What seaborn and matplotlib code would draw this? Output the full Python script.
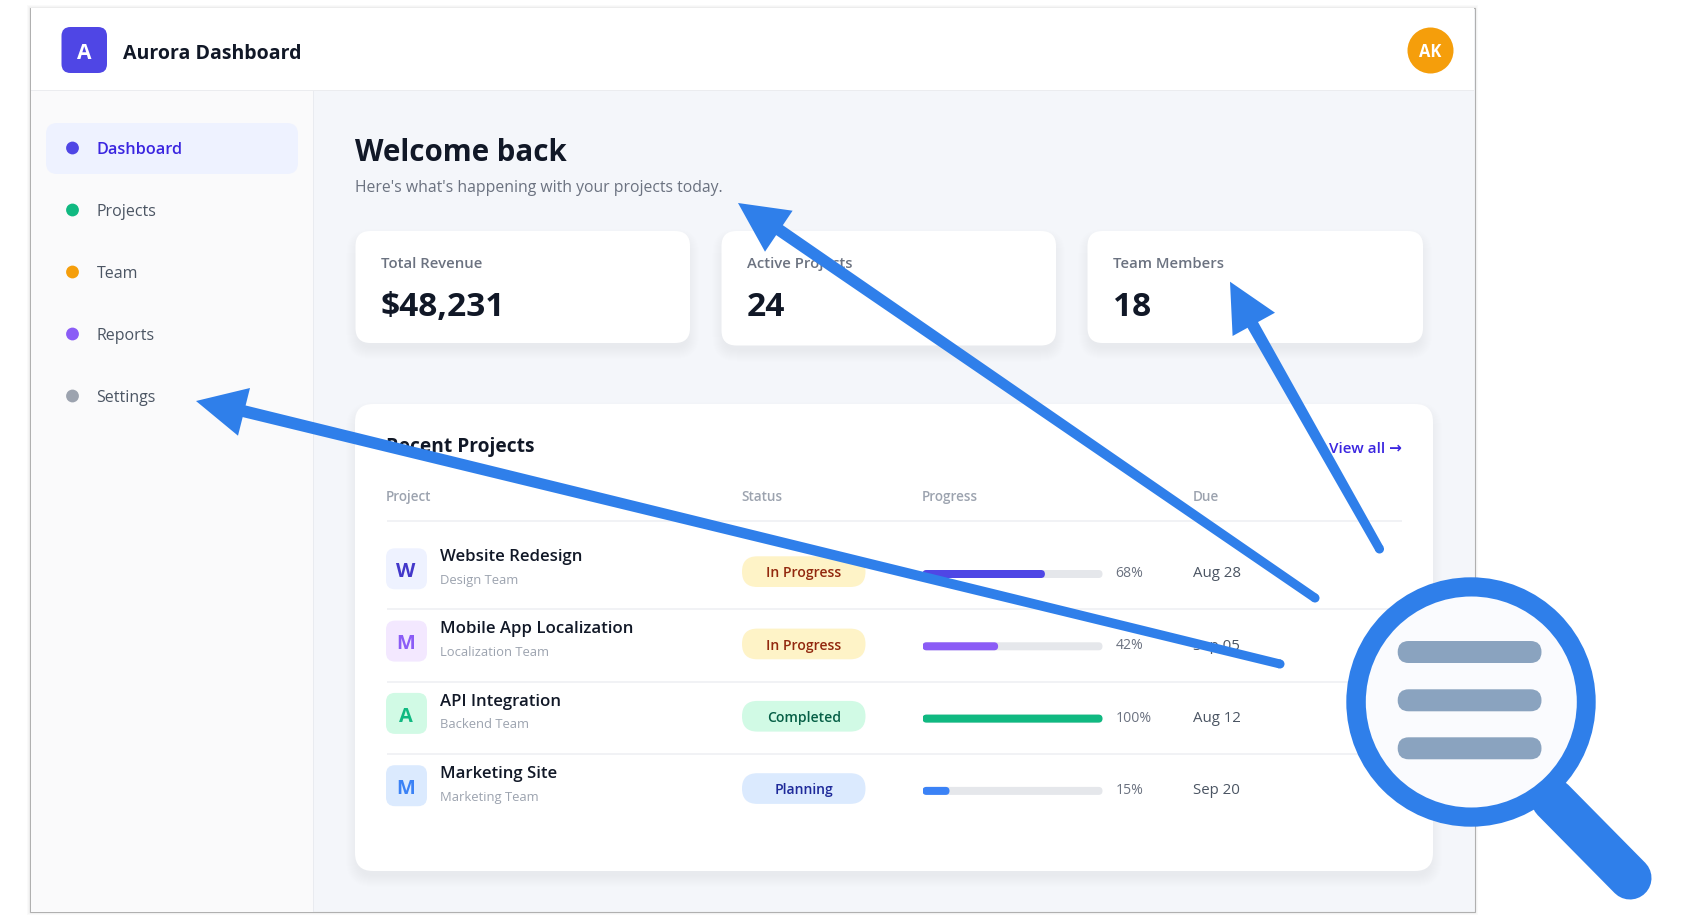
import matplotlib
matplotlib.use("Agg")
import matplotlib.pyplot as plt
from matplotlib.patches import FancyBboxPatch, Circle, Polygon, Rectangle
import numpy as np
import seaborn as sns

# --------------------------------------------------
# DATA
# --------------------------------------------------

nav_items = ["Dashboard", "Projects", "Team", "Reports", "Settings"]
nav_colors = ["#4F46E5", "#10B981", "#F59E0B", "#8B5CF6", "#9CA3AF"]

stat_labels = ["Total Revenue", "Active Projects", "Team Members"]
stat_values = ["$48,231", "24", "18"]

table_headers = ["Project", "Status", "Progress", "Due"]
projects = ["Website Redesign", "Mobile App Localization", "API Integration", "Marketing Site"]
teams = ["Design Team", "Localization Team", "Backend Team", "Marketing Team"]
initials = ["W", "M", "A", "M"]
statuses = ["In Progress", "In Progress", "Completed", "Planning"]
progress = [68, 42, 100, 15]
track = [100, 100, 100, 100]
due_dates = ["Aug 28", "Sep 05", "Aug 12", "Sep 20"]

icon_bg = ["#EEF2FF", "#F3E8FF", "#D1FAE5", "#DBEAFE"]
icon_fg = ["#4338CA", "#8B5CF6", "#10B981", "#3B82F6"]
status_bg = {"In Progress": "#FEF3C7", "Completed": "#D1FAE5", "Planning": "#DBEAFE"}
status_fg = {"In Progress": "#92280E", "Completed": "#065F46", "Planning": "#1E2A9A"}
progress_colors = ["#4F46E5", "#8B5CF6", "#10B981", "#3B82F6"]

# --------------------------------------------------
# FIGURE SETUP
# --------------------------------------------------

W, H = 1703, 922
BLUE = "#2F7FEA"
INK = "#111827"
INDIGO = "#3B26E0"

sns.set_theme(style="white")
plt.rcParams["font.family"] = ["Open Sans", "DejaVu Sans"]

fig = plt.figure(figsize=(W / 100, H / 100), dpi=100, facecolor="white")


def pixel_axes(zorder):
    ax = fig.add_axes([0, 0, 1, 1], zorder=zorder)
    ax.set_xlim(0, W)
    ax.set_ylim(H, 0)
    ax.axis("off")
    ax.patch.set_alpha(0)
    return ax


bg = pixel_axes(0)
top = pixel_axes(2)


def box(ax, x0, y0, x1, y1, r, color, **kw):
    ax.add_patch(FancyBboxPatch((x0, y0), x1 - x0, y1 - y0,
                                boxstyle=f"round,pad=0,rounding_size={r}",
                                fc=color, ec="none", **kw))


def card(x0, y0, x1, y1, r):
    # soft shadow, just stacked see-through boxes
    for grow in range(-2, 10):
        box(bg, x0 - grow, y0 + 7 - grow, x1 + grow, y1 + 7 + grow, r + max(grow, 0),
            "#1F2937", alpha=0.0055)
    box(bg, x0, y0, x1, y1, r, "white")


def label(x, y, s, px, color, weight="normal", ha="left", ax=bg):
    # y is the middle of the capitals, px the font size in pixels
    ax.text(x, y + 0.357 * px, s, fontsize=px * 0.72, color=color,
            fontweight=weight, ha=ha, va="baseline")


# --------------------------------------------------
# PANEL, HEADER, SIDEBAR
# --------------------------------------------------

for grow in range(1, 4):
    bg.add_patch(Rectangle((30 - grow, 8 - grow), 1444.5 + 2 * grow, 904 + 2 * grow,
                           fc="#000000", ec="none", alpha=0.02))
bg.add_patch(Rectangle((30, 8), 1444.5, 904, fc="#F4F6FA", ec="#B0B0B0", lw=0.8))
bg.add_patch(Rectangle((30.5, 8.5), 1443.5, 82, fc="white", ec="none"))
bg.add_patch(Rectangle((30.5, 90), 1443.5, 1.5, fc="#EBECEF", ec="none"))
bg.add_patch(Rectangle((30.5, 91.5), 282, 820, fc="#FAFAFB", ec="none"))
bg.add_patch(Rectangle((312.5, 91.5), 1.5, 820, fc="#E9EBF0", ec="none"))

box(bg, 61.5, 27, 107, 73, 9, "#4F46E5")
label(84, 52, "A", 21, "white", "bold", ha="center")
label(123, 52.5, "Aurora Dashboard", 19.5, INK, "bold")

bg.add_patch(Circle((1430.5, 50.5), 23, fc="#F59E0B", ec="none"))
label(1430.5, 51, "AK", 16.5, "white", "bold", ha="center")

box(bg, 46, 123, 298, 174, 11, "#EEF2FF")
for i, (item, dot) in enumerate(zip(nav_items, nav_colors)):
    y = 148 + 62 * i
    bg.add_patch(Circle((72.5, y), 6.4, fc=dot, ec="none"))
    if i == 0:
        label(96.5, y + 0.5, item, 16.3, INDIGO, 600)
    else:
        label(96.5, y + 0.5, item, 16, "#4B5563")

# --------------------------------------------------
# WELCOME + STAT CARDS
# --------------------------------------------------

label(355, 150.5, "Welcome back", 29.5, INK, "bold")
label(355, 186.5, "Here's what's happening with your projects today.", 15.8, "#6B7280")

card_boxes = [(355.5, 231, 690, 343), (721.5, 231, 1056, 345.5), (1087.5, 231, 1423, 343)]
for (x0, y0, x1, y1), name, value in zip(card_boxes, stat_labels, stat_values):
    card(x0, y0, x1, y1, 15)
    label(x0 + 25.5, 262.5, name, 14.9, "#6B7280", 600)
    label(x0 + 25.5, 304, value, 33.5, INK, "bold")

# --------------------------------------------------
# RECENT PROJECTS TABLE
# --------------------------------------------------

card(355, 404, 1433, 871, 18)
label(386, 445, "Recent Projects", 19.2, INK, "bold")
label(1401.5, 448, "View all →", 15.3, INDIGO, 600, ha="right")

for x, head in zip([386, 741, 922, 1193], table_headers):
    label(x, 496.5, head, 13.5, "#9CA3AF", 600)

for y in [520.7, 609.3, 681.7, 754]:
    bg.plot([387, 1402], [y, y], color="#F0F1F4", lw=1.3, solid_capstyle="butt")

for i in range(4):
    row = 72.3 * i
    box(bg, 386, 548.3 + row, 427, 589.3 + row, 9, icon_bg[i])
    label(406, 570 + row, initials[i], 20, icon_fg[i], "bold", ha="center")
    label(440, 555 + row, projects[i], 16.7, INK, 600)
    label(440, 579 + row, teams[i], 13, "#9CA3AF")
    box(bg, 742, 556.3 + row, 865.5, 587 + row, 15.3, status_bg[statuses[i]])
    label(803.8, 572.5 + row, statuses[i], 14, status_fg[statuses[i]], 600, ha="center")
    label(1115.5, 572 + row, f"{progress[i]}%", 14, "#6B7280")
    label(1193, 572 + row, due_dates[i], 15, "#4B5563")

# progress bars go through seaborn, one axes over the progress column
bar_ax = fig.add_axes([922.5 / W, 1 - (574 + 72.3 * 3.5) / H, 180 / W, 72.3 * 4 / H], zorder=1)
sns.barplot(x=track, y=projects, color="#E5E7EB", saturation=1, width=8 / 72.3, ax=bar_ax)
sns.barplot(x=progress, y=projects, hue=projects, palette=progress_colors, saturation=1,
            width=8 / 72.3, legend=False, ax=bar_ax)
bar_ax.set_xlim(0, 100)
bar_ax.set_ylim(3.5, -0.5)
bar_ax.axis("off")
bar_ax.patch.set_alpha(0)

# swap the square bars for rounded ones of the same size
x_px = 180 / 100
y_px = 72.3
for bar in list(bar_ax.patches):
    x0, y0, w, h = bar.get_x(), bar.get_y(), bar.get_width(), bar.get_height()
    color = bar.get_facecolor()
    bar.remove()
    if w > 0:
        bar_ax.add_patch(FancyBboxPatch((x0, y0), w, h,
                                        boxstyle=f"round,pad=0,rounding_size={4 / x_px}",
                                        mutation_aspect=x_px / y_px, fc=color, ec="none"))

# --------------------------------------------------
# ARROWS AND MAGNIFIER
# --------------------------------------------------


def arrow(tail, neck, tip, wing_a, wing_b):
    # shaft gets a bit fatter towards the head
    tail, neck = np.array(tail, float), np.array(neck, float)
    along = (neck - tail) / np.linalg.norm(neck - tail)
    side = np.array([-along[1], along[0]])
    shaft = [tail + side * 4.5, neck + side * 6, neck - side * 6, tail - side * 4.5]
    top.add_patch(Polygon(shaft, closed=True, fc=BLUE, ec="none"))
    top.add_patch(Circle(tail, 4.5, fc=BLUE, ec="none"))
    top.add_patch(Polygon([tip, wing_a, wing_b], closed=True, fc=BLUE, ec="none"))


arrow((1280, 664), (243, 411), (196, 401), (250, 388), (238, 435.7))
arrow((1315, 598), (772, 225), (738, 203), (792.6, 210.7), (765, 251.7))
arrow((1379.5, 549), (1250, 320), (1230, 281.7), (1275, 312.7), (1232.6, 336))

top.plot([1553, 1630], [800, 878], color=BLUE, lw=31, solid_capstyle="round")
top.add_patch(Circle((1471, 702), 124.7, fc=BLUE, ec="none"))
top.add_patch(Circle((1471.3, 702), 105.5, fc="#FAFBFE", ec="none"))
for y0 in [641, 689.3, 737.3]:
    box(top, 1397.7, y0, 1541.5, y0 + 22, 11, "#8AA3BF")

fig.savefig("out.png", dpi=100, facecolor="white")
